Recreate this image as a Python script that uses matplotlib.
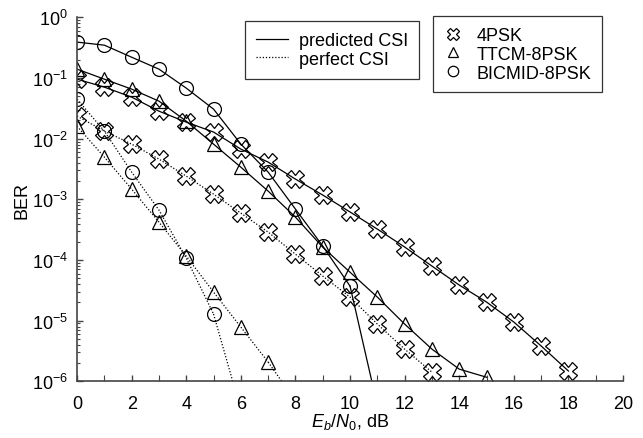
import numpy as np
import matplotlib
matplotlib.use("Agg")
import matplotlib.pyplot as plt
from matplotlib.lines import Line2D
from matplotlib.ticker import LogLocator, MultipleLocator, NullFormatter

plt.rcParams['font.family'] = ['Liberation Sans', 'DejaVu Sans']
plt.rcParams['mathtext.fontset'] = 'custom'
plt.rcParams['mathtext.rm'] = 'Liberation Sans'
plt.rcParams['mathtext.it'] = 'Liberation Sans:italic'

# ---- data ----
x_4psk_pred = list(range(0, 19))
ber_4psk_pred = [0.096, 0.071, 0.0486, 0.0285, 0.0188, 0.0129, 0.00675, 0.00412, 0.00216,
                 0.00118, 6.2e-4, 3.24e-4, 1.64e-4, 7.96e-5, 3.87e-5, 2.03e-5, 9.5e-6,
                 3.83e-6, 1.48e-6]
x_4psk_perf = list(range(0, 14))
ber_4psk_perf = [0.0236, 0.0134, 0.00816, 0.00462, 0.00242, 0.00122, 5.94e-4, 2.89e-4,
                 1.25e-4, 5.44e-5, 2.45e-5, 8.8e-6, 3.4e-6, 1.42e-6]

x_ttcm_pred = list(range(0, 16))
ber_ttcm_pred = [0.1406, 0.096, 0.0658, 0.0417, 0.0195, 0.00815, 0.0034, 0.00137, 5.1e-4,
                 1.63e-4, 6.3e-5, 2.45e-5, 8.8e-6, 3.4e-6, 1.59e-6, 1.17e-6]
x_ttcm_perf = list(range(0, 8))
ber_ttcm_perf = [0.0161, 0.00498, 0.00148, 4.22e-4, 1.16e-4, 2.97e-5, 7.86e-6, 2.08e-6]
x_ttcm_perf_tail = [7, 8]
ber_ttcm_perf_tail = [2.08e-6, 4.8e-7]

x_bic_pred = list(range(0, 11))
ber_bic_pred = [0.392, 0.349, 0.221, 0.1406, 0.0684, 0.0308, 0.00816, 0.00282, 6.92e-4,
                1.70e-4, 3.72e-5]
x_bic_pred_tail = [10, 11]
ber_bic_pred_tail = [3.72e-5, 4.0e-7]
x_bic_perf = list(range(0, 6))
ber_bic_perf = [0.045, 0.0134, 0.00282, 6.67e-4, 1.08e-4, 1.29e-5]
x_bic_perf_tail = [5, 6]
ber_bic_perf_tail = [1.29e-5, 3.4e-7]

legend_styles = ['predicted CSI', 'perfect CSI']
legend_schemes = ['4PSK', 'TTCM-8PSK', 'BICMID-8PSK']

# ---- figure ----
FS = 13
fig = plt.figure(figsize=(6.43, 4.39), dpi=100)
ax = fig.add_axes([0.1198, 0.129, 0.8492, 0.829])

solid = dict(color='black', lw=0.9, linestyle='-')
dotted = dict(color='black', lw=0.9, linestyle=(0, (1, 1.5)))
mk = dict(mfc='none', mec='black', mew=0.9)

ax.plot(x_4psk_pred, ber_4psk_pred, marker='X', ms=12.5, **solid, **mk)
ax.plot(x_4psk_perf, ber_4psk_perf, marker='X', ms=12.5, **dotted, **mk)
ax.plot(x_ttcm_pred, ber_ttcm_pred, marker='^', ms=10, **solid, **mk)
ax.plot(x_ttcm_perf, ber_ttcm_perf, marker='^', ms=10, **dotted, **mk)
ax.plot(x_ttcm_perf_tail, ber_ttcm_perf_tail, **dotted)
ax.plot(x_bic_pred, ber_bic_pred, marker='o', ms=10, **solid, **mk)
ax.plot(x_bic_pred_tail, ber_bic_pred_tail, **solid)
ax.plot(x_bic_perf, ber_bic_perf, marker='o', ms=10, **dotted, **mk)
ax.plot(x_bic_perf_tail, ber_bic_perf_tail, **dotted)

ax.set_yscale('log')
ax.set_xlim(0, 20)
ax.set_ylim(1e-6, 1)
ax.set_xticks(range(0, 21, 2))
ax.xaxis.set_minor_locator(MultipleLocator(1))
ax.yaxis.set_major_locator(LogLocator(base=10, numticks=10))
ax.yaxis.set_minor_locator(LogLocator(base=10, subs=np.arange(2, 10), numticks=20))
ax.yaxis.set_minor_formatter(NullFormatter())
ax.tick_params(which='both', direction='in', labelsize=FS, color='#444444')
ax.tick_params(which='major', length=4, width=1)
ax.tick_params(which='minor', length=2.5, width=0.8)
ax.tick_params(axis='x', which='minor', length=4)
ax.tick_params(axis='x', which='major', pad=10)
ax.tick_params(axis='y', which='major', pad=6.5)
ax.spines['top'].set_visible(False)
ax.spines['right'].set_visible(False)
for s in ['left', 'bottom']:
    ax.spines[s].set_linewidth(1.2)
    ax.spines[s].set_color('#444444')

ax.set_xlabel('$E_b/N_0$, dB', fontsize=FS, labelpad=-1)
ax.set_ylabel('BER', fontsize=FS, labelpad=1)

h1 = [Line2D([], [], color='black', lw=0.9, linestyle='-'),
      Line2D([], [], color='black', lw=0.9, linestyle=(0, (1, 1.5)))]
leg1 = ax.legend(h1, legend_styles, loc='upper left', bbox_to_anchor=(0.3077, 0.9898),
                 borderaxespad=0, fontsize=FS, frameon=True, fancybox=False,
                 edgecolor='black', handlelength=1.8, handletextpad=0.6,
                 borderpad=0.6, labelspacing=0.1)
leg1.get_frame().set_linewidth(0.9)
ax.add_artist(leg1)

h2 = [Line2D([], [], linestyle='none', marker='X', ms=9, **mk),
      Line2D([], [], linestyle='none', marker='^', ms=7.5, **mk),
      Line2D([], [], linestyle='none', marker='o', ms=7.5, **mk)]
leg2 = ax.legend(h2, legend_schemes, loc='upper left', bbox_to_anchor=(0.652, 1.0036),
                 borderaxespad=0, fontsize=FS, frameon=True, fancybox=False,
                 edgecolor='black', handlelength=1.0, handletextpad=0.8,
                 borderpad=0.6, labelspacing=0.1)
leg2.get_frame().set_linewidth(0.9)

fig.savefig('out.png', dpi=100)
